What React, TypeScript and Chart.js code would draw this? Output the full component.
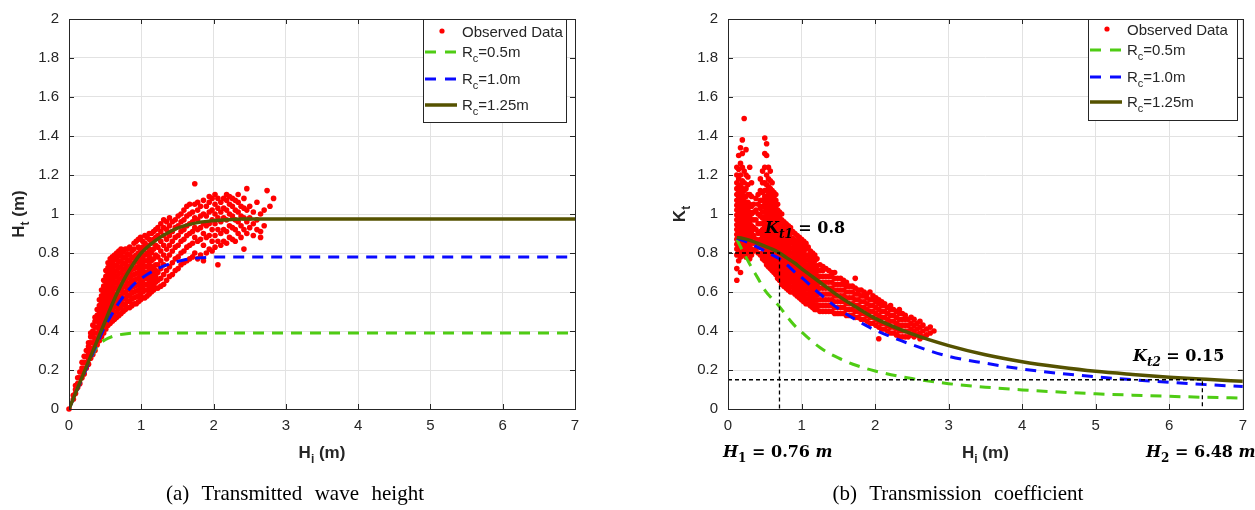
import React, { useEffect, useRef } from "react";
import { Chart, registerables } from "chart.js";
Chart.register(...registerables);

// ---------- data ----------
const X_MIN = 0, X_MAX = 7, X_STEP = 1;
const Y_MIN = 0, Y_MAX = 2, Y_STEP = 0.2;

// (a) Transmitted wave height — observed points, columns of [Hi, Ht values]
const observedA: [number, number[]][] = [
  [0.0, [0.0]],
  [0.06, [0.05, 0.07]],
  [0.09, [0.08, 0.1, 0.12]],
  [0.12, [0.11, 0.13, 0.16]],
  [0.15, [0.13, 0.16, 0.19]],
  [0.18, [0.16, 0.19, 0.21, 0.24]],
  [0.21, [0.18, 0.21, 0.24, 0.27]],
  [0.24, [0.21, 0.24, 0.27, 0.3]],
  [0.27, [0.23, 0.26, 0.29, 0.32, 0.34]],
  [0.3, [0.26, 0.28, 0.31, 0.34, 0.37, 0.39]],
  [0.33, [0.28, 0.31, 0.34, 0.37, 0.4, 0.43]],
  [0.36, [0.3, 0.33, 0.36, 0.39, 0.42, 0.45, 0.47]],
  [0.39, [0.33, 0.36, 0.39, 0.42, 0.45, 0.48, 0.51]],
  [0.42, [0.35, 0.38, 0.41, 0.44, 0.47, 0.5, 0.53, 0.56]],
  [0.45, [0.37, 0.4, 0.43, 0.46, 0.49, 0.52, 0.55, 0.58, 0.61]],
  [0.48, [0.39, 0.42, 0.45, 0.48, 0.51, 0.54, 0.57, 0.6, 0.63, 0.66]],
  [0.51, [0.41, 0.44, 0.47, 0.5, 0.53, 0.56, 0.59, 0.62, 0.65, 0.68, 0.71]],
  [0.54, [0.43, 0.455, 0.485, 0.515, 0.545, 0.575, 0.605, 0.635, 0.665, 0.695, 0.725, 0.75]],
  [0.57, [0.44, 0.47, 0.5, 0.53, 0.56, 0.59, 0.62, 0.65, 0.68, 0.71, 0.74, 0.77]],
  [0.6, [0.45, 0.48, 0.51, 0.54, 0.57, 0.6, 0.63, 0.66, 0.69, 0.72, 0.75, 0.78]],
  [0.63, [0.46, 0.495, 0.525, 0.555, 0.585, 0.615, 0.645, 0.675, 0.705, 0.735, 0.765, 0.79]],
  [0.66, [0.47, 0.5, 0.53, 0.56, 0.59, 0.62, 0.65, 0.68, 0.71, 0.74, 0.77, 0.8]],
  [0.69, [0.48, 0.515, 0.545, 0.575, 0.605, 0.635, 0.665, 0.695, 0.725, 0.755, 0.785, 0.81]],
  [0.72, [0.49, 0.52, 0.55, 0.58, 0.61, 0.64, 0.67, 0.7, 0.73, 0.76, 0.79, 0.82]],
  [0.75, [0.5, 0.535, 0.565, 0.595, 0.625, 0.655, 0.685, 0.715, 0.745, 0.775, 0.805]],
  [0.78, [0.51, 0.54, 0.57, 0.6, 0.63, 0.66, 0.69, 0.72, 0.75, 0.78, 0.82]],
  [0.81, [0.52, 0.555, 0.585, 0.615, 0.645, 0.675, 0.705, 0.735, 0.765, 0.795, 0.82]],
  [0.84, [0.52, 0.55, 0.58, 0.61, 0.64, 0.67, 0.7, 0.73, 0.76, 0.79, 0.83]],
  [0.87, [0.53, 0.565, 0.595, 0.625, 0.655, 0.685, 0.715, 0.745, 0.775, 0.81]],
  [0.9, [0.54, 0.57, 0.6, 0.63, 0.66, 0.69, 0.72, 0.75, 0.78, 0.82, 0.85]],
  [0.93, [0.54, 0.575, 0.605, 0.635, 0.665, 0.695, 0.725, 0.755, 0.79, 0.86]],
  [0.96, [0.55, 0.58, 0.61, 0.64, 0.67, 0.7, 0.73, 0.76, 0.8, 0.83, 0.87]],
  [0.99, [0.56, 0.59, 0.62, 0.65, 0.68, 0.71, 0.74, 0.77, 0.81, 0.88]],
  [1.02, [0.57, 0.6, 0.63, 0.66, 0.69, 0.72, 0.75, 0.78, 0.83, 0.86]],
  [1.05, [0.57, 0.61, 0.64, 0.67, 0.7, 0.73, 0.76, 0.79, 0.85, 0.89]],
  [1.08, [0.58, 0.61, 0.64, 0.67, 0.7, 0.73, 0.76, 0.8, 0.84, 0.88]],
  [1.11, [0.59, 0.62, 0.65, 0.68, 0.71, 0.74, 0.78, 0.82, 0.87, 0.9]],
  [1.14, [0.6, 0.63, 0.66, 0.69, 0.72, 0.76, 0.8, 0.85, 0.9]],
  [1.17, [0.61, 0.64, 0.67, 0.7, 0.73, 0.77, 0.82, 0.87, 0.91]],
  [1.2, [0.62, 0.65, 0.68, 0.71, 0.74, 0.79, 0.84, 0.88, 0.92]],
  [1.23, [0.62, 0.66, 0.7, 0.74, 0.78, 0.83, 0.89, 0.93]],
  [1.27, [0.63, 0.67, 0.72, 0.76, 0.81, 0.86, 0.91, 0.95]],
  [1.31, [0.64, 0.69, 0.74, 0.79, 0.84, 0.89, 0.93, 0.97]],
  [1.35, [0.66, 0.71, 0.77, 0.82, 0.87, 0.92, 0.96]],
  [1.39, [0.68, 0.73, 0.79, 0.84, 0.89, 0.94, 0.98]],
  [1.43, [0.69, 0.75, 0.81, 0.86, 0.91, 0.96]],
  [1.47, [0.71, 0.77, 0.83, 0.88, 0.93, 0.97]],
  [1.51, [0.72, 0.78, 0.84, 0.89, 0.94, 0.99]],
  [1.55, [0.74, 0.8, 0.86, 0.91, 0.96, 1.0]],
  [1.59, [0.75, 0.81, 0.87, 0.92, 0.97, 1.02]],
  [1.63, [0.76, 0.83, 0.89, 0.94, 0.99, 1.04]],
  [1.67, [0.77, 0.84, 0.9, 0.95, 1.0, 1.05]],
  [1.71, [0.78, 0.85, 0.91, 0.96, 1.01]],
  [1.74, [0.8, 0.88, 0.93, 0.98, 1.05, 1.155]],
  [1.78, [0.77, 0.86, 0.92, 0.97, 1.02, 1.06]],
  [1.82, [0.79, 0.87, 0.93, 0.99, 1.04]],
  [1.86, [0.76, 0.84, 0.9, 0.95, 1.0, 1.07]],
  [1.9, [0.8, 0.88, 0.94, 0.99, 1.04]],
  [1.94, [0.82, 0.89, 0.95, 1.01, 1.06, 1.09]],
  [1.98, [0.81, 0.86, 0.92, 0.97, 1.02, 1.08]],
  [2.02, [0.83, 0.89, 0.95, 1.0, 1.05, 1.1]],
  [2.06, [0.74, 0.86, 0.92, 0.98, 1.03, 1.08]],
  [2.1, [0.84, 0.9, 0.96, 1.01, 1.06]],
  [2.14, [0.86, 0.92, 0.98, 1.03, 1.08]],
  [2.18, [0.85, 0.91, 0.97, 1.02, 1.07, 1.1]],
  [2.22, [0.88, 0.94, 1.0, 1.05, 1.09]],
  [2.26, [0.87, 0.93, 0.99, 1.04, 1.08]],
  [2.3, [0.86, 0.92, 0.97, 1.02, 1.07]],
  [2.34, [0.9, 0.96, 1.01, 1.06, 1.1]],
  [2.38, [0.88, 0.94, 0.99, 1.04]],
  [2.42, [0.82, 0.92, 0.98, 1.03, 1.08]],
  [2.46, [0.9, 0.96, 1.02, 1.13]],
  [2.5, [0.93, 0.98, 1.04]],
  [2.55, [0.89, 0.95, 1.01]],
  [2.6, [0.92, 0.97, 1.06]],
  [2.65, [0.88, 0.91, 1.0]],
  [2.7, [0.94, 1.02]],
  [2.74, [1.12]],
  [2.78, [1.04]],
  [2.83, [1.08]],
];

// (a) fitted curves (Ht vs Hi)
const hiGridA = [0, 0.1, 0.2, 0.3, 0.4, 0.5, 0.6, 0.7, 0.8, 0.9, 1.0, 1.2, 1.4, 1.6, 1.8, 2.0, 2.2, 2.4, 2.6, 3, 4, 5, 6, 7];
const htRc050 = [0, 0.09, 0.18, 0.26, 0.325, 0.355, 0.372, 0.381, 0.386, 0.389, 0.39, 0.39, 0.39, 0.39, 0.39, 0.39, 0.39, 0.39, 0.39, 0.39, 0.39, 0.39, 0.39, 0.39];
const htRc100 = [0, 0.087, 0.172, 0.258, 0.345, 0.425, 0.49, 0.55, 0.6, 0.64, 0.67, 0.715, 0.745, 0.765, 0.775, 0.779, 0.78, 0.78, 0.78, 0.78, 0.78, 0.78, 0.78, 0.78];
const htRc125 = [0, 0.09, 0.18, 0.27, 0.36, 0.45, 0.54, 0.62, 0.69, 0.75, 0.8, 0.865, 0.91, 0.94, 0.957, 0.966, 0.971, 0.974, 0.975, 0.975, 0.975, 0.975, 0.975, 0.975];

// (b) Transmission coefficient — observed points, columns of [Hi, Kt values]
const observedB: [number, number[]][] = [
  [0.12, [0.66, 0.72, 0.79, 0.82, 0.845, 0.87, 0.895, 0.92, 0.945, 0.97, 0.995, 1.02, 1.045, 1.07, 1.1, 1.13, 1.16, 1.2, 1.24]],
  [0.145, [0.76, 0.8, 0.83, 0.855, 0.88, 0.905, 0.93, 0.955, 0.98, 1.005, 1.03, 1.055, 1.08, 1.11, 1.14, 1.18, 1.23, 1.3]],
  [0.17, [0.7, 0.78, 0.81, 0.835, 0.86, 0.885, 0.91, 0.935, 0.96, 0.985, 1.01, 1.035, 1.06, 1.09, 1.12, 1.15, 1.2, 1.26, 1.34]],
  [0.195, [0.8, 0.825, 0.85, 0.875, 0.9, 0.925, 0.95, 0.975, 1.0, 1.025, 1.05, 1.075, 1.1, 1.13, 1.17, 1.24, 1.31, 1.38]],
  [0.22, [0.79, 0.815, 0.84, 0.865, 0.89, 0.915, 0.94, 0.965, 0.99, 1.015, 1.04, 1.065, 1.09, 1.12, 1.16, 1.22, 1.49]],
  [0.245, [0.78, 0.81, 0.835, 0.86, 0.885, 0.91, 0.935, 0.96, 0.985, 1.01, 1.035, 1.06, 1.09, 1.13, 1.2, 1.33]],
  [0.27, [0.8, 0.825, 0.85, 0.875, 0.9, 0.925, 0.95, 0.975, 1.0, 1.03, 1.06, 1.1, 1.15, 1.19]],
  [0.295, [0.77, 0.8, 0.83, 0.86, 0.89, 0.92, 0.95, 0.98, 1.01, 1.05, 1.1, 1.24]],
  [0.32, [0.79, 0.82, 0.85, 0.88, 0.91, 0.94, 0.97, 1.0, 1.04, 1.09, 1.16]],
  [0.35, [0.81, 0.85, 0.89, 0.93, 0.97, 1.01, 1.05]],
  [0.38, [0.82, 0.87, 0.92, 0.97, 1.02, 1.08]],
  [0.41, [0.8, 0.85, 0.9, 0.95, 1.0, 1.05, 1.1]],
  [0.44, [0.79, 0.83, 0.87, 0.91, 0.95, 0.99, 1.03, 1.07, 1.12, 1.18]],
  [0.47, [0.77, 0.8, 0.83, 0.86, 0.89, 0.92, 0.95, 0.98, 1.01, 1.04, 1.07, 1.11, 1.16, 1.22]],
  [0.5, [0.76, 0.785, 0.81, 0.835, 0.86, 0.885, 0.91, 0.935, 0.96, 0.985, 1.01, 1.035, 1.06, 1.09, 1.12, 1.16, 1.24, 1.31, 1.39]],
  [0.525, [0.74, 0.765, 0.79, 0.815, 0.84, 0.865, 0.89, 0.915, 0.94, 0.965, 0.99, 1.015, 1.04, 1.065, 1.09, 1.12, 1.15, 1.2, 1.3, 1.36]],
  [0.55, [0.73, 0.755, 0.78, 0.805, 0.83, 0.855, 0.88, 0.905, 0.93, 0.955, 0.98, 1.005, 1.03, 1.055, 1.08, 1.11, 1.14, 1.18, 1.24]],
  [0.575, [0.72, 0.745, 0.77, 0.795, 0.82, 0.845, 0.87, 0.895, 0.92, 0.945, 0.97, 0.995, 1.02, 1.045, 1.07, 1.1, 1.13, 1.17, 1.22]],
  [0.6, [0.71, 0.735, 0.76, 0.785, 0.81, 0.835, 0.86, 0.885, 0.91, 0.935, 0.96, 0.985, 1.01, 1.035, 1.06, 1.09, 1.12, 1.16]],
  [0.625, [0.7, 0.725, 0.75, 0.775, 0.8, 0.825, 0.85, 0.875, 0.9, 0.925, 0.95, 0.975, 1.0, 1.025, 1.05, 1.08, 1.11]],
  [0.65, [0.69, 0.715, 0.74, 0.765, 0.79, 0.815, 0.84, 0.865, 0.89, 0.915, 0.94, 0.965, 0.99, 1.015, 1.04, 1.07, 1.1]],
  [0.675, [0.67, 0.695, 0.72, 0.745, 0.77, 0.795, 0.82, 0.845, 0.87, 0.895, 0.92, 0.945, 0.97, 0.995, 1.02, 1.05]],
  [0.7, [0.66, 0.685, 0.71, 0.735, 0.76, 0.785, 0.81, 0.835, 0.86, 0.885, 0.91, 0.935, 0.96, 0.985, 1.01]],
  [0.73, [0.64, 0.665, 0.69, 0.715, 0.74, 0.765, 0.79, 0.815, 0.84, 0.865, 0.89, 0.915, 0.94, 0.97, 1.0]],
  [0.76, [0.63, 0.655, 0.68, 0.705, 0.73, 0.755, 0.78, 0.805, 0.83, 0.855, 0.88, 0.905, 0.93, 0.96]],
  [0.79, [0.62, 0.645, 0.67, 0.695, 0.72, 0.745, 0.77, 0.795, 0.82, 0.845, 0.87, 0.895, 0.92, 0.95]],
  [0.82, [0.61, 0.635, 0.66, 0.685, 0.71, 0.735, 0.76, 0.785, 0.81, 0.835, 0.86, 0.885, 0.91, 0.94]],
  [0.85, [0.6, 0.625, 0.65, 0.675, 0.7, 0.725, 0.75, 0.775, 0.8, 0.825, 0.85, 0.875, 0.9, 0.93]],
  [0.88, [0.6, 0.625, 0.65, 0.675, 0.7, 0.725, 0.75, 0.775, 0.8, 0.825, 0.85, 0.875, 0.91]],
  [0.91, [0.59, 0.615, 0.64, 0.665, 0.69, 0.715, 0.74, 0.765, 0.79, 0.815, 0.84, 0.865, 0.9]],
  [0.94, [0.58, 0.605, 0.63, 0.655, 0.68, 0.705, 0.73, 0.755, 0.78, 0.805, 0.83, 0.86, 0.89]],
  [0.97, [0.57, 0.595, 0.62, 0.645, 0.67, 0.695, 0.72, 0.745, 0.77, 0.795, 0.82, 0.85, 0.88]],
  [1.0, [0.56, 0.585, 0.61, 0.635, 0.66, 0.685, 0.71, 0.735, 0.76, 0.785, 0.81, 0.84, 0.87]],
  [1.03, [0.55, 0.575, 0.6, 0.625, 0.65, 0.675, 0.7, 0.725, 0.75, 0.775, 0.8, 0.83, 0.86]],
  [1.06, [0.54, 0.565, 0.59, 0.615, 0.64, 0.665, 0.69, 0.715, 0.74, 0.765, 0.79, 0.82, 0.85]],
  [1.09, [0.54, 0.565, 0.59, 0.615, 0.64, 0.665, 0.69, 0.715, 0.74, 0.765, 0.79, 0.83]],
  [1.12, [0.53, 0.555, 0.58, 0.605, 0.63, 0.655, 0.68, 0.705, 0.73, 0.755, 0.78, 0.81]],
  [1.15, [0.52, 0.545, 0.57, 0.595, 0.62, 0.645, 0.67, 0.695, 0.72, 0.745, 0.77, 0.8]],
  [1.18, [0.51, 0.535, 0.56, 0.585, 0.61, 0.635, 0.66, 0.685, 0.71, 0.735, 0.76, 0.79]],
  [1.21, [0.51, 0.535, 0.56, 0.585, 0.61, 0.635, 0.66, 0.685, 0.71, 0.735, 0.77]],
  [1.25, [0.5, 0.53, 0.56, 0.59, 0.62, 0.65, 0.68, 0.71, 0.74]],
  [1.29, [0.5, 0.53, 0.56, 0.59, 0.62, 0.65, 0.68, 0.71, 0.73]],
  [1.33, [0.5, 0.53, 0.56, 0.59, 0.62, 0.65, 0.68, 0.72]],
  [1.37, [0.5, 0.53, 0.56, 0.59, 0.62, 0.65, 0.68, 0.71]],
  [1.41, [0.5, 0.53, 0.56, 0.59, 0.62, 0.65, 0.68, 0.7]],
  [1.45, [0.49, 0.52, 0.55, 0.58, 0.61, 0.64, 0.67, 0.7]],
  [1.49, [0.49, 0.52, 0.55, 0.58, 0.61, 0.64, 0.67]],
  [1.53, [0.49, 0.52, 0.55, 0.58, 0.61, 0.64, 0.67]],
  [1.57, [0.49, 0.52, 0.55, 0.58, 0.61, 0.64, 0.66]],
  [1.61, [0.48, 0.51, 0.54, 0.57, 0.6, 0.63, 0.65]],
  [1.65, [0.48, 0.51, 0.54, 0.57, 0.6, 0.63]],
  [1.69, [0.48, 0.51, 0.54, 0.57, 0.6, 0.63]],
  [1.73, [0.47, 0.5, 0.53, 0.56, 0.59, 0.62, 0.67]],
  [1.77, [0.47, 0.5, 0.53, 0.56, 0.59, 0.61]],
  [1.81, [0.46, 0.49, 0.52, 0.55, 0.58, 0.61]],
  [1.85, [0.46, 0.49, 0.52, 0.55, 0.58, 0.6]],
  [1.89, [0.45, 0.48, 0.51, 0.54, 0.57, 0.59]],
  [1.93, [0.44, 0.47, 0.5, 0.53, 0.56, 0.6]],
  [1.97, [0.44, 0.47, 0.5, 0.53, 0.56, 0.58]],
  [2.01, [0.43, 0.46, 0.49, 0.52, 0.55, 0.57]],
  [2.05, [0.36, 0.42, 0.45, 0.48, 0.51, 0.54, 0.56]],
  [2.09, [0.41, 0.44, 0.47, 0.5, 0.53, 0.55]],
  [2.13, [0.41, 0.44, 0.47, 0.5, 0.53, 0.54]],
  [2.17, [0.4, 0.43, 0.46, 0.49, 0.52]],
  [2.21, [0.39, 0.42, 0.45, 0.48, 0.51, 0.53]],
  [2.25, [0.39, 0.42, 0.45, 0.48, 0.51]],
  [2.29, [0.38, 0.41, 0.44, 0.47, 0.5]],
  [2.33, [0.37, 0.4, 0.43, 0.46, 0.49, 0.51]],
  [2.37, [0.37, 0.4, 0.43, 0.46, 0.49]],
  [2.41, [0.37, 0.4, 0.43, 0.46, 0.48]],
  [2.45, [0.37, 0.4, 0.43, 0.46]],
  [2.49, [0.38, 0.41, 0.44, 0.47]],
  [2.53, [0.37, 0.4, 0.43, 0.46]],
  [2.57, [0.38, 0.41, 0.44]],
  [2.61, [0.36, 0.39, 0.42, 0.45]],
  [2.65, [0.37, 0.4, 0.43]],
  [2.7, [0.38, 0.41]],
  [2.75, [0.39, 0.42]],
  [2.8, [0.4]],
];

// (b) fitted curves (Kt vs Hi)
const hiGridB = [0.12, 0.2, 0.3, 0.4, 0.5, 0.6, 0.7, 0.8, 0.9, 1.0, 1.25, 1.5, 1.75, 2.0, 2.5, 3, 3.5, 4, 4.5, 5, 5.5, 6, 6.5, 7];
const ktRc050 = [0.87, 0.81, 0.74, 0.675, 0.61, 0.565, 0.525, 0.475, 0.43, 0.395, 0.315, 0.262, 0.223, 0.195, 0.156, 0.13, 0.112, 0.098, 0.087, 0.078, 0.071, 0.065, 0.06, 0.056];
const ktRc100 = [0.875, 0.865, 0.85, 0.83, 0.81, 0.79, 0.77, 0.74, 0.705, 0.675, 0.59, 0.515, 0.455, 0.405, 0.33, 0.27, 0.235, 0.205, 0.183, 0.165, 0.15, 0.137, 0.125, 0.115];
const ktRc125 = [0.88, 0.875, 0.865, 0.85, 0.835, 0.82, 0.8, 0.775, 0.75, 0.72, 0.65, 0.58, 0.52, 0.465, 0.385, 0.325, 0.278, 0.242, 0.215, 0.193, 0.177, 0.163, 0.152, 0.142];

// (b) reference guide lines
const kt1 = 0.8, h1Line = 0.7;
const kt2 = 0.15, h2Line = 6.45;

const seriesNames = ["Observed Data", "0.5m", "1.0m", "1.25m"];

// ---------- styles ----------
const RED = "#ff0000";
const GREEN = "#4fcc14";
const BLUE = "#0a0aff";
const OLIVE = "#555200";
const AXIS = "#262626";
const GRID = "#e2e2e2";
const SANS = "'Liberation Sans', Arial, sans-serif";
const MATH = "'DejaVu Serif', serif";

type Part = { t: string; sub?: boolean; it?: boolean };

function drawRich(ctx: CanvasRenderingContext2D, parts: Part[], x: number, y: number, size: number, family: string, weight: string, align: "left" | "center") {
  const fontOf = (p: Part) => `${p.it ? "italic " : ""}${weight} ${p.sub ? Math.round(size * 0.72) : size}px ${family}`;
  const widths = parts.map((p) => { ctx.font = fontOf(p); return ctx.measureText(p.t).width; });
  const total = widths.reduce((a, b) => a + b, 0);
  let cx = align === "center" ? x - total / 2 : x;
  ctx.textAlign = "left";
  ctx.textBaseline = "alphabetic";
  parts.forEach((p, i) => {
    ctx.font = fontOf(p);
    ctx.fillText(p.t, cx, p.sub ? y + size * 0.3 : y);
    cx += widths[i];
  });
}

const toPoints = (xs: number[], ys: number[]) => xs.map((x, i) => ({ x, y: ys[i] }));
const columnsToPoints = (cols: [number, number[]][]) => cols.flatMap(([x, ys]) => ys.map((y) => ({ x, y })));

type PanelCfg = {
  yParts: Part[];
  yLabelBaseX: number;
  legend: { x: number; y: number; w: number; h: number; rows: number[] };
  extra?: (ctx: CanvasRenderingContext2D, chart: any) => void;
};

function makeDecor(cfg: PanelCfg) {
  return {
    id: "decor",
    afterDatasetsDraw(chart: any) {
      const ctx: CanvasRenderingContext2D = chart.ctx;
      const { left, right, top, bottom } = chart.chartArea;
      const xs = chart.scales.x, ys = chart.scales.y;
      ctx.save();
      ctx.strokeStyle = AXIS;
      ctx.lineWidth = 1;
      ctx.strokeRect(Math.round(left) + 0.5, Math.round(top) + 0.5, Math.round(right - left), Math.round(bottom - top));
      const tl = 5;
      ctx.beginPath();
      for (let v = X_MIN; v <= X_MAX + 1e-9; v += X_STEP) {
        const px = Math.round(xs.getPixelForValue(v)) + 0.5;
        ctx.moveTo(px, bottom); ctx.lineTo(px, bottom - tl);
        ctx.moveTo(px, top); ctx.lineTo(px, top + tl);
      }
      for (let k = 0; k <= 10; k++) {
        const v = Y_MIN + k * Y_STEP;
        const py = Math.round(ys.getPixelForValue(v)) + 0.5;
        ctx.moveTo(left, py); ctx.lineTo(left + tl, py);
        ctx.moveTo(right, py); ctx.lineTo(right - tl, py);
      }
      ctx.stroke();
      ctx.restore();
    },
    afterDraw(chart: any) {
      const ctx: CanvasRenderingContext2D = chart.ctx;
      const { left, right, top, bottom } = chart.chartArea;
      ctx.save();
      ctx.fillStyle = AXIS;
      drawRich(ctx, [{ t: "H" }, { t: "i", sub: true }, { t: " (m)" }], (left + right) / 2, 458, 17, SANS, "bold", "center");
      ctx.save();
      ctx.translate(cfg.yLabelBaseX, (top + bottom) / 2);
      ctx.rotate(-Math.PI / 2);
      drawRich(ctx, cfg.yParts, 0, 0, 17, SANS, "bold", "center");
      ctx.restore();

      const L = cfg.legend;
      ctx.fillStyle = "#ffffff";
      ctx.fillRect(L.x, L.y, L.w, L.h);
      ctx.strokeStyle = AXIS;
      ctx.lineWidth = 1;
      ctx.strokeRect(L.x + 0.5, L.y + 0.5, L.w, L.h);
      const lx0 = L.x + 2, lx1 = L.x + 34, tx = L.x + 39;
      ctx.fillStyle = RED;
      ctx.beginPath();
      ctx.arc(L.x + 19, L.y + L.rows[0] - 6, 2.6, 0, Math.PI * 2);
      ctx.fill();
      ctx.fillStyle = AXIS;
      drawRich(ctx, [{ t: seriesNames[0] }], tx, L.y + L.rows[0], 15, SANS, "normal", "left");
      const lineRows: [string, number, number[], number][] = [
        [GREEN, L.rows[1], [11, 9], 3],
        [BLUE, L.rows[2], [11, 9], 3],
        [OLIVE, L.rows[3], [], 3.5],
      ];
      lineRows.forEach(([col, base, dash, lw], i) => {
        ctx.strokeStyle = col;
        ctx.lineWidth = lw;
        ctx.setLineDash(dash);
        ctx.beginPath();
        ctx.moveTo(lx0, L.y + base - 5);
        ctx.lineTo(lx1, L.y + base - 5);
        ctx.stroke();
        ctx.setLineDash([]);
        ctx.fillStyle = AXIS;
        drawRich(ctx, [{ t: "R" }, { t: "c", sub: true }, { t: "=" + seriesNames[i + 1] }], tx, L.y + base, 15, SANS, "normal", "left");
      });
      if (cfg.extra) cfg.extra(ctx, chart);
      ctx.restore();
    },
  };
}

function buildChart(canvas: HTMLCanvasElement, datasets: any[], pad: { right: number }, yWidth: number, cfg: PanelCfg) {
  const tickFont = { family: SANS, size: 15 };
  return new Chart(canvas, {
    type: "scatter",
    data: { datasets },
    options: {
      animation: false,
      responsive: false,
      maintainAspectRatio: false,
      layout: { padding: { left: 0, right: pad.right, top: 10, bottom: 0 } },
      plugins: { legend: { display: false }, tooltip: { enabled: false }, title: { display: false } },
      elements: { point: { hoverRadius: 0 } },
      scales: {
        x: {
          type: "linear",
          min: X_MIN,
          max: X_MAX,
          ticks: { stepSize: X_STEP, padding: 8, color: AXIS, font: tickFont, maxRotation: 0 },
          grid: { color: GRID, drawTicks: false, lineWidth: 1 },
          border: { display: false },
          afterFit: (s: any) => { s.height = 101; },
        },
        y: {
          type: "linear",
          min: Y_MIN,
          max: Y_MAX,
          ticks: {
            stepSize: Y_STEP,
            padding: 10,
            color: AXIS,
            font: tickFont,
            callback: (v: any) => Number(v).toFixed(1).replace(/\.0$/, ""),
          },
          grid: { color: GRID, drawTicks: false, lineWidth: 1 },
          border: { display: false },
          afterFit: (s: any) => { s.width = yWidth; },
        },
      },
    } as any,
    plugins: [makeDecor(cfg)],
  });
}

const curve = (data: any[], color: string, dash: number[], lw: number, order: number) => ({
  data,
  showLine: true,
  borderColor: color,
  backgroundColor: color,
  borderWidth: lw,
  borderDash: dash,
  pointRadius: 0,
  fill: false,
  cubicInterpolationMode: "monotone",
  order,
});

const scatterSet = (data: any[]) => ({
  data,
  showLine: false,
  pointRadius: 2.8,
  pointBorderWidth: 0,
  pointBackgroundColor: RED,
  backgroundColor: RED,
  borderColor: RED,
  clip: false,
  order: 5,
});

export default function App() {
  const refA = useRef<HTMLCanvasElement>(null);
  const refB = useRef<HTMLCanvasElement>(null);

  useEffect(() => {
    const dash = [11, 8];
    const chartA = buildChart(
      refA.current!,
      [
        scatterSet(columnsToPoints(observedA)),
        curve(toPoints(hiGridA, htRc050), GREEN, dash, 3, 3),
        curve(toPoints(hiGridA, htRc100), BLUE, dash, 3, 2),
        curve(toPoints(hiGridA, htRc125), OLIVE, [], 3.5, 1),
      ],
      { right: 45 },
      69,
      {
        yParts: [{ t: "H" }, { t: "t", sub: true }, { t: " (m)" }],
        yLabelBaseX: 24,
        legend: { x: 423, y: 19, w: 143, h: 103, rows: [18, 38, 65, 91] },
      }
    );

    const guide = (pts: { x: number; y: number }[]) => ({
      data: pts,
      showLine: true,
      borderColor: "#000",
      borderWidth: 1.3,
      borderDash: [4, 3],
      pointRadius: 0,
      fill: false,
      tension: 0,
      order: 0,
    });

    const chartB = buildChart(
      refB.current!,
      [
        scatterSet(columnsToPoints(observedB)),
        curve(toPoints(hiGridB, ktRc050), GREEN, dash, 3, 3),
        curve(toPoints(hiGridB, ktRc100), BLUE, dash, 3, 2),
        curve(toPoints(hiGridB, ktRc125), OLIVE, [], 3.5, 1),
        guide([{ x: 0, y: kt1 }, { x: h1Line, y: kt1 }, { x: h1Line, y: 0 }]),
        guide([{ x: 0, y: kt2 }, { x: h2Line, y: kt2 }, { x: h2Line, y: 0 }]),
      ],
      { right: 12 },
      108,
      {
        yParts: [{ t: "K" }, { t: "t", sub: true }],
        yLabelBaseX: 65,
        legend: { x: 468, y: 19, w: 149, h: 101, rows: [16, 36, 63, 88] },
        extra: (ctx) => {
          ctx.fillStyle = "#000";
          drawRich(ctx, [{ t: "K", it: true }, { t: "t1", sub: true, it: true }, { t: " = 0.8" }], 145, 233, 16, MATH, "bold", "left");
          drawRich(ctx, [{ t: "K", it: true }, { t: "t2", sub: true, it: true }, { t: " = 0.15" }], 513, 361, 16, MATH, "bold", "left");
          drawRich(ctx, [{ t: "H", it: true }, { t: "1", sub: true }, { t: " = 0.76 " }, { t: "m", it: true }], 103, 457, 16, MATH, "bold", "left");
          drawRich(ctx, [{ t: "H", it: true }, { t: "2", sub: true }, { t: " = 6.48 " }, { t: "m", it: true }], 526, 457, 16, MATH, "bold", "left");
        },
      }
    );
    return () => {
      chartA.destroy();
      chartB.destroy();
    };
  }, []);

  const captionStyle: React.CSSProperties = {
    position: "absolute",
    top: 482,
    width: 400,
    textAlign: "center",
    fontFamily: "'Liberation Serif', 'Times New Roman', serif",
    fontSize: 21,
    lineHeight: "22px",
    wordSpacing: 1,
    color: "#000",
    whiteSpace: "pre",
  };

  return (
    <div style={{ position: "absolute", left: 0, top: 0, width: 1255, height: 510, background: "#fff", overflow: "hidden" }}>
      <canvas ref={refA} width={620} height={510} style={{ position: "absolute", left: 0, top: 0, width: 620, height: 510 }} />
      <canvas ref={refB} width={635} height={510} style={{ position: "absolute", left: 620, top: 0, width: 635, height: 510 }} />
      <div style={{ ...captionStyle, left: 295 - 200 }}>(a)  Transmitted  wave  height</div>
      <div style={{ ...captionStyle, left: 958 - 200 }}>(b)  Transmission  coefficient</div>
    </div>
  );
}
